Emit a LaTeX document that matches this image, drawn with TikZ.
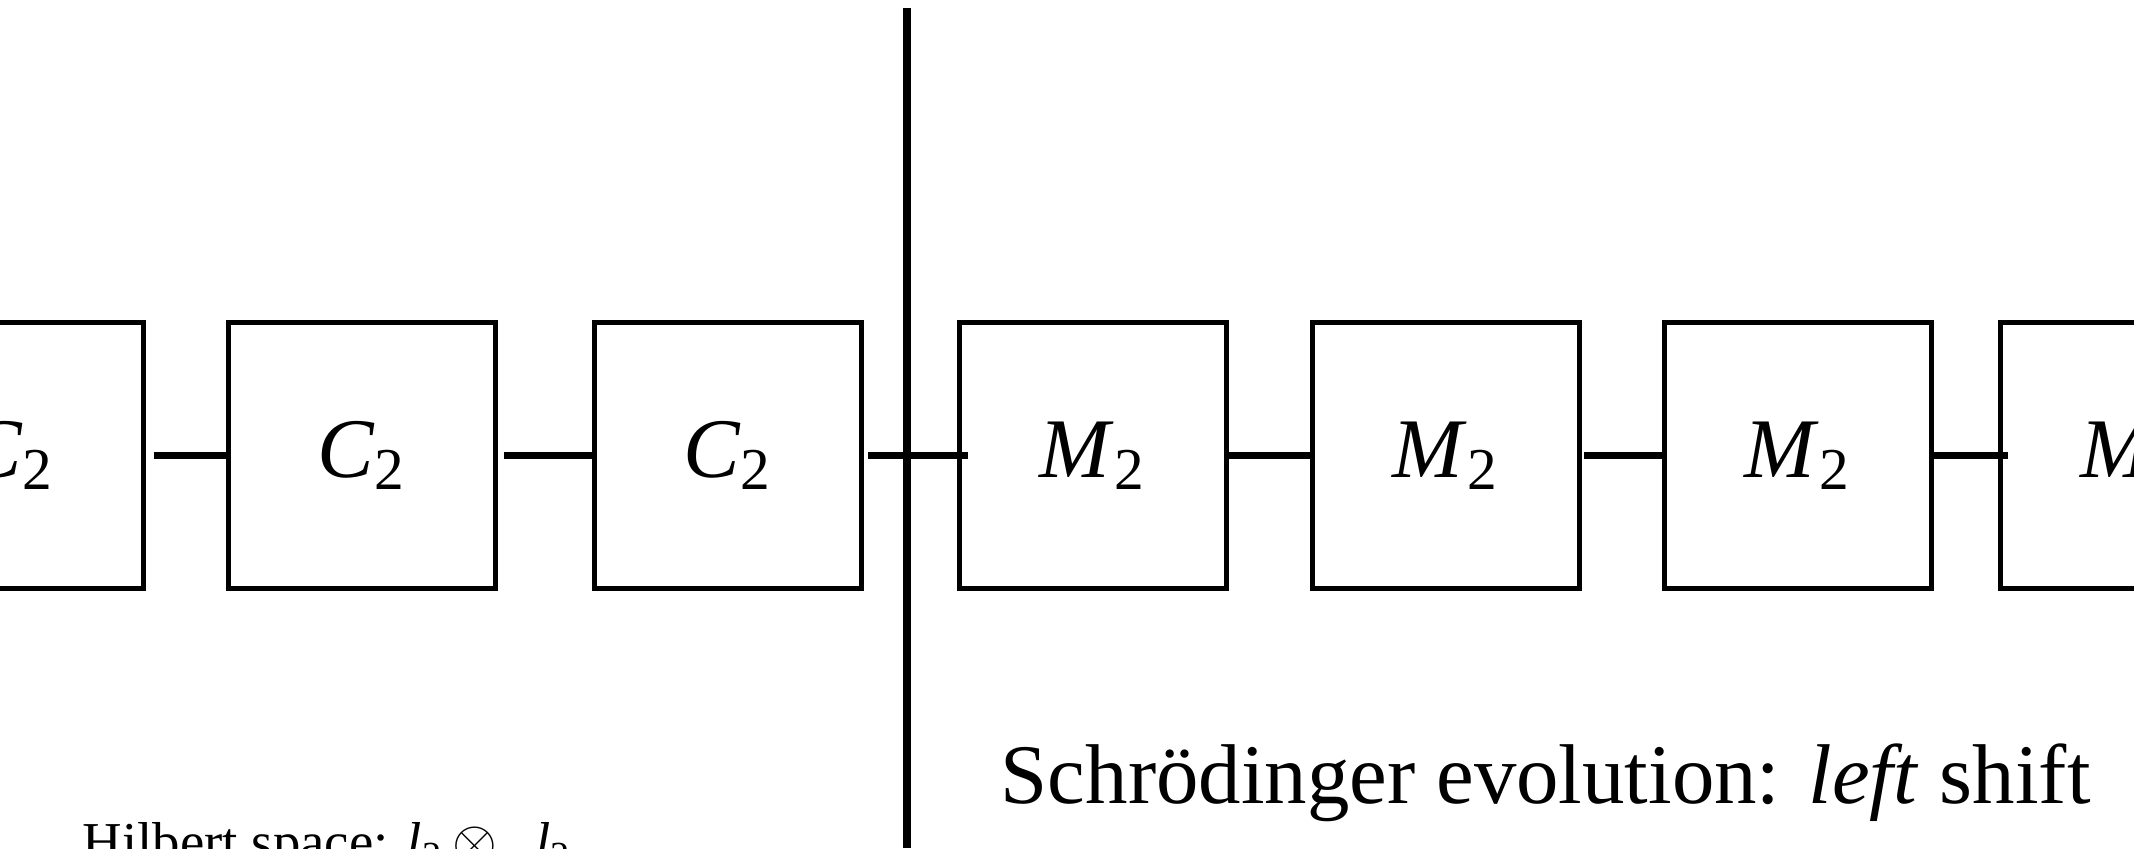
\documentclass[tikz,border=0pt]{standalone}
\usepackage{fontspec}
\setmainfont{Liberation Serif}
\usetikzlibrary{calc,positioning}
\tikzset{
  cell/.style={draw,line width=1.25pt,minimum width=66.75pt,minimum height=66.5pt,inner sep=0pt,outer sep=0pt,font=\fontsize{21.2}{25}\selectfont},
  link/.style={line width=1.75pt},
  divider/.style={line width=2pt}
}
\newcommand{\Cspace}{\textit{C}\textsubscript{2}}
\newcommand{\Mspace}{\textit{M}\textsubscript{2}}
\newcommand{\ltwo}{\textit{l}\textsubscript{2}}

\begin{document}
\begin{tikzpicture}[x=0.25pt,y=0.25pt]
\useasboundingbox (0,0) rectangle (2134,848);
\clip (0,0) rectangle (2134,848);
% classical part
\node[cell] (c1) at (10,392.5) {\Cspace};
\node[cell] (c2) at (362,392.5) {\Cspace};
\node[cell] (c3) at (728,392.5) {\Cspace};
% quantum part
\node[cell] (m1) at (1093,392.5) {\Mspace};
\node[cell] (m2) at (1446,392.5) {\Mspace};
\node[cell] (m3) at (1798,392.5) {\Mspace};
\node[cell] (m4) at (2134,392.5) {\Mspace};
\draw[link] ([xshift=2.6pt]c1.east) -- (c2.west);
\draw[link] ([xshift=2.1pt]c2.east) -- ([xshift=0.5pt]c3.west);
\draw[link] ([xshift=1.6pt]c3.east) -- ([xshift=2.1pt]m1.west);
\draw[link] ([xshift=0.6pt]m1.east) -- (m2.west);
\draw[link] ([xshift=1.1pt]m2.east) -- (m3.west);
\draw[link] (m3.east) -- ([xshift=1.9pt]m4.west);
% cut between the two halves
\coordinate (cuttop) at (907,840);
\coordinate (cutbot) at (907,0);
\draw[divider] (cuttop) -- (cutbot);
\node[anchor=base west,inner sep=0pt,font=\fontsize{21.2}{25}\selectfont] (evol) at (1000,45) {Schrödinger evolution: \textit{left} shift};
\node[anchor=base west,inner sep=0pt,font=\fontsize{13.7}{16}\selectfont] (hilb) at (82,-12) {Hilbert space: \ltwo\,$\otimes$\hspace{0.7em}\ltwo};
\end{tikzpicture}
\end{document}
